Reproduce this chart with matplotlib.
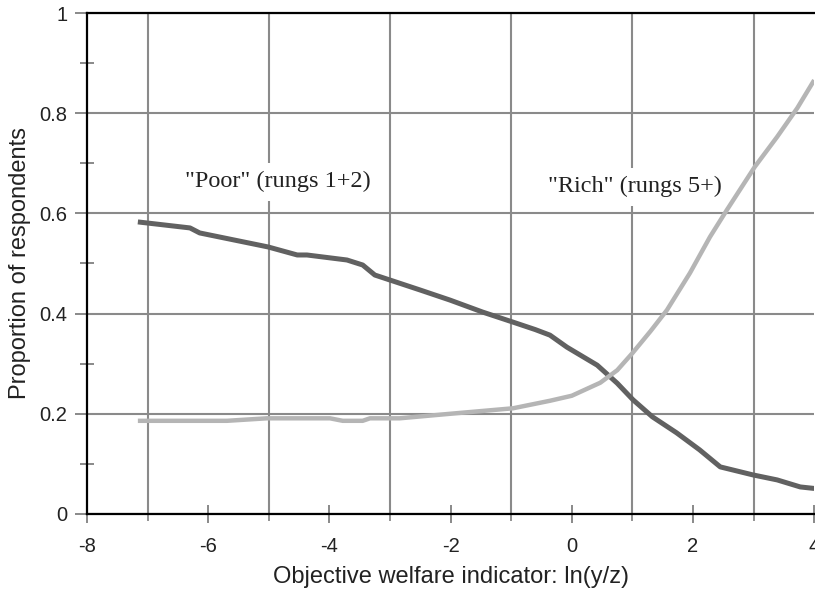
import numpy as np
import matplotlib
matplotlib.use("Agg")
import matplotlib.pyplot as plt
from matplotlib.ticker import MultipleLocator, FuncFormatter

plt.rcParams["font.family"] = ["Liberation Sans", "DejaVu Sans"]
plt.rcParams["axes.unicode_minus"] = False

# "Poor" (rungs 1+2) curve
poor_x = [-7.16, -6.3, -6.14, -5.01, -4.53, -4.37, -3.71, -3.45, -3.25, -3.0,
          -2.5, -2.01, -1.47, -0.97, -0.6, -0.36, -0.08, 0.42, 0.75, 1.01,
          1.33, 1.73, 2.11, 2.45, 2.99, 3.39, 3.77, 4.0]
poor_y = [0.583, 0.571, 0.561, 0.533, 0.517, 0.517, 0.507, 0.497, 0.477, 0.467,
          0.447, 0.427, 0.403, 0.383, 0.368, 0.357, 0.333, 0.297, 0.261, 0.228,
          0.194, 0.162, 0.128, 0.094, 0.078, 0.068, 0.054, 0.051]

# "Rich" (rungs 5+) curve
rich_x = [-7.16, -5.69, -5.03, -3.99, -3.78, -3.45, -3.33, -2.84, -2.01, -0.97,
          -0.36, 0.0, 0.47, 0.75, 1.0, 1.3, 1.57, 1.95, 2.28, 2.56, 3.02, 3.39,
          3.72, 4.0]
rich_y = [0.186, 0.186, 0.191, 0.191, 0.186, 0.186, 0.191, 0.191, 0.200, 0.211,
          0.226, 0.236, 0.262, 0.287, 0.321, 0.365, 0.407, 0.481, 0.553, 0.607,
          0.693, 0.753, 0.810, 0.866]

poor_label = '"Poor" (rungs 1+2)'
rich_label = '"Rich" (rungs 5+)'

fig = plt.figure(figsize=(8.15, 5.91), dpi=100)
ax = fig.add_axes([0.1067, 0.1303, 0.8923, 0.8477])

ax.plot(poor_x, poor_y, color="#616161", lw=3.6, solid_capstyle="butt", zorder=4)
ax.plot(rich_x, rich_y, color="#b5b5b5", lw=3.2, solid_capstyle="butt", zorder=4)

ax.set_xlim(-8, 4)
ax.set_ylim(0, 1)

# axis ticks / grid
ax.xaxis.set_major_locator(MultipleLocator(2))
ax.xaxis.set_minor_locator(MultipleLocator(1))
ax.yaxis.set_major_locator(MultipleLocator(0.2))
ax.yaxis.set_minor_locator(MultipleLocator(0.1))
ax.yaxis.set_major_formatter(FuncFormatter(lambda v, p: "%g" % round(v, 2)))
ax.xaxis.set_major_formatter(FuncFormatter(lambda v, p: "%d" % v))

ax.grid(True, which="minor", axis="x", color="#8a8a8a", lw=1.5)
ax.grid(True, which="major", axis="y", color="#8a8a8a", lw=1.5)
ax.set_axisbelow(True)

ax.tick_params(axis="x", which="major", direction="inout", length=13, width=1.3,
               color="#808080", labelsize=14.5, pad=10, labelcolor="#222222")
ax.tick_params(axis="x", which="minor", direction="out", length=5, width=1.3,
               color="#8a8a8a")
ax.tick_params(axis="y", which="major", direction="out", length=9, width=1.3,
               color="#808080", labelsize=14.5, pad=5, labelcolor="#222222")
ax.tick_params(axis="y", which="minor", direction="inout", length=10, width=1.3,
               color="#808080")

for s in ["left", "bottom", "top"]:
    ax.spines[s].set_color("black")
    ax.spines[s].set_linewidth(1.6)
ax.spines["right"].set_visible(False)

ax.set_xlabel("Objective welfare indicator: ln(y/z)", fontsize=17, labelpad=7,
              color="#222222")
ax.set_ylabel("Proportion of respondents", fontsize=17, labelpad=6,
              color="#222222")

box = dict(facecolor="white", edgecolor="none", pad=6)
ax.text(-4.85, 0.663, poor_label, family="Liberation Serif", fontsize=17.5,
        ha="center", va="center", bbox=box, zorder=3, color="#222222")
ax.text(1.04, 0.653, rich_label, family="Liberation Serif", fontsize=17.5,
        ha="center", va="center", bbox=box, zorder=3, color="#222222")

fig.savefig("out.png", dpi=100)
